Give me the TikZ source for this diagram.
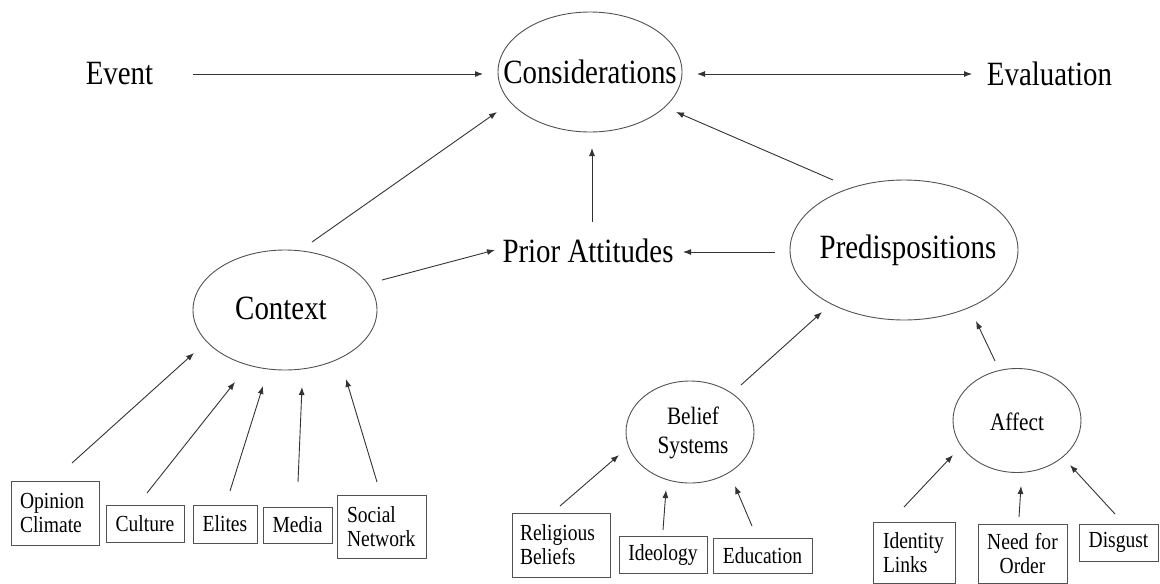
\documentclass[tikz,border=0pt]{standalone}
\usepackage{graphicx}
\usepackage{fontspec}
\setmainfont{Liberation Serif}
\usetikzlibrary{arrows.meta,shapes.geometric}
\definecolor{linecol}{gray}{0.2}
\definecolor{ellcol}{gray}{0.32}
\definecolor{txtcol}{gray}{0.0}
\newcommand\fBig{\fontsize{34}{40}\selectfont}
\newcommand\fMid{\fontsize{25}{29}\selectfont}
\newcommand\fBox{\fontsize{23}{24}\selectfont}
\newcommand\sx[1]{\scalebox{0.85}[1]{#1}}
\begin{document}
\begin{tikzpicture}[x=1pt,y=-1pt,
  arr/.style={draw=linecol, line width=0.9pt, -{Latex[length=8pt,width=6pt]}},
  darr/.style={draw=linecol, line width=0.9pt, {Latex[length=8pt,width=6pt]}-{Latex[length=8pt,width=6pt]}},
  ell/.style={draw=ellcol, line width=0.9pt, ellipse, inner sep=0pt},
  bigtxt/.style={font=\fBig, text=txtcol, inner sep=0pt},
  midtxt/.style={font=\fMid, text=txtcol, inner sep=0pt, align=center},
  box/.style={draw=ellcol, line width=0.9pt, inner sep=0pt, font=\fBox, text=txtcol},
  twobox/.style={box, align=left, inner ysep=0pt}
]
\useasboundingbox (0,0) rectangle (1160,584);

% top row
\node[bigtxt] (ev) at (119.5,74) {\sx{Event}};
\node[ell, minimum width=184pt, minimum height=120pt,
      label={[bigtxt]center:\sx{Considerations}}] (cons) at (590,72) {};
\node[bigtxt] (eval) at (1049.5,74) {\sx{Evaluation}};

% middle row
\node[bigtxt] (prior) at (588,251) {\sx{Prior Attitudes}};
\node[ell, minimum width=184pt, minimum height=120pt,
      label={[bigtxt, xshift=-4pt, yshift=2pt]center:\sx{Context}}] (ctx) at (285,310) {};
\node[ell, minimum width=228pt, minimum height=140pt,
      label={[bigtxt, xshift=4pt]center:\sx{Predispositions}}] (pred) at (904,250) {};

% lower ellipses
\node[ell, minimum width=128pt, minimum height=102pt,
      label={[midtxt, xshift=3pt, yshift=-1pt]center:{\sx{Belief}\\\sx{Systems}}}] (bel) at (690,432) {};
\node[ell, minimum width=128pt, minimum height=104pt,
      label={[midtxt, yshift=-1pt]center:\sx{Affect}}] (aff) at (1017,420.5) {};

% context boxes
\node[twobox, text width=70pt, inner xsep=9pt, minimum height=64pt] (oc) at (55,513) {\sx{Opinion}\\\sx{Climate}};
\node[box, minimum width=78pt, minimum height=37pt] (cul) at (145,523.5) {\sx{Culture}};
\node[box, minimum width=64pt, minimum height=38pt] (eli) at (225,524) {\sx{Elites}};
\node[box, minimum width=69pt, minimum height=36pt] (med) at (297.5,525) {\sx{Media}};
\node[twobox, text width=69pt, inner xsep=10pt, minimum height=63pt] (sn) at (381.5,526.5) {\sx{Social}\\\sx{Network}};

% belief boxes
\node[twobox, text width=82pt, inner xsep=8pt, minimum height=64pt] (rb) at (561,545) {\sx{Religious}\\\sx{Beliefs}};
\node[box, minimum width=88pt, minimum height=37pt] (ide) at (663,554.5) {\sx{Ideology}};
\node[box, minimum width=99pt, minimum height=35pt] (edu) at (762.5,555.5) {\sx{Education}};

% affect boxes
\node[twobox, text width=62pt, inner xsep=10pt, minimum height=61pt] (il) at (914,552.5) {\sx{Identity}\\\sx{Links}};
\node[box, align=center, text width=73pt, inner xsep=8pt, minimum height=59pt] (nfo) at (1022.5,554) {\sx{Need for}\\\sx{Order}};
\node[box, minimum width=79pt, minimum height=37pt] (dis) at (1118.5,542.5) {\sx{Disgust}};

% connectors
\draw[arr]  ([shift={(73.5,0)}]ev.center) -- ([shift={(-107,2)}]cons.center);
\draw[darr] ([shift={(107,2)}]cons.center) -- ([shift={(-77.5,0)}]eval.center);
\draw[arr]  ([shift={(27,-68)}]ctx.center) -- ([shift={(-93,40)}]cons.center);
\draw[arr]  ([shift={(4,-29)}]prior.center) -- ([shift={(2,76)}]cons.center);
\draw[arr]  ([shift={(-71,-70)}]pred.center) -- ([shift={(86,40)}]cons.center);
\draw[arr]  ([shift={(97,-30)}]ctx.center) -- ([shift={(-93,-1)}]prior.center);
\draw[arr]  ([shift={(-129,2)}]pred.center) -- ([shift={(95,1)}]prior.center);
\draw[arr]  ([shift={(51,-47)}]bel.center) -- ([shift={(-82,62)}]pred.center);
\draw[arr]  ([shift={(-22,-59.5)}]aff.center) -- ([shift={(72,71)}]pred.center);

\draw[arr]  ([shift={(17,-50)}]oc.center) -- ([shift={(-91,43)}]ctx.center);
\draw[arr]  ([shift={(2,-30.5)}]cul.center) -- ([shift={(-50,72)}]ctx.center);
\draw[arr]  ([shift={(5,-33)}]eli.center) -- ([shift={(-22,76)}]ctx.center);
\draw[arr]  ([shift={(0.5,-43)}]med.center) -- ([shift={(17,77)}]ctx.center);
\draw[arr]  ([shift={(-4.5,-44.5)}]sn.center) -- ([shift={(61,69)}]ctx.center);

\draw[arr]  ([shift={(-1,-39)}]rb.center) -- ([shift={(-71,23)}]bel.center);
\draw[arr]  ([shift={(0,-24.5)}]ide.center) -- ([shift={(-24,58)}]bel.center);
\draw[arr]  ([shift={(-10.5,-29.5)}]edu.center) -- ([shift={(45,54)}]bel.center);

\draw[arr]  ([shift={(-10,-45.5)}]il.center) -- ([shift={(-64,34.5)}]aff.center);
\draw[arr]  ([shift={(-3.5,-37)}]nfo.center) -- ([shift={(4,65.5)}]aff.center);
\draw[arr]  ([shift={(-3.5,-28.5)}]dis.center) -- ([shift={(53,44.5)}]aff.center);
\end{tikzpicture}
\end{document}
